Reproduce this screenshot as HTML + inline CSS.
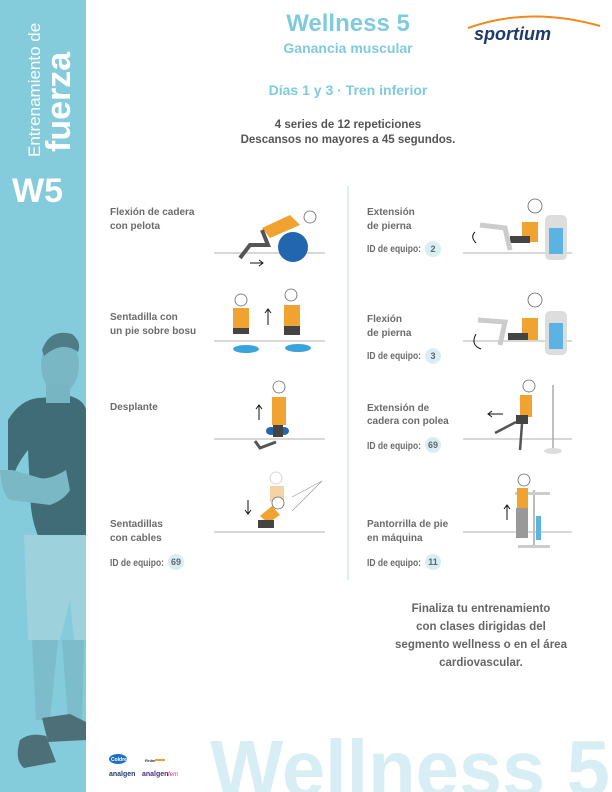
<!DOCTYPE html>
<html><head><meta charset="utf-8"><style>
html,body{margin:0;padding:0;background:#fff}
body{width:612px;height:792px;position:relative;overflow:hidden;font-family:"Liberation Sans",sans-serif}
</style></head><body>
<svg width="612" height="792" viewBox="0 0 612 792" xmlns="http://www.w3.org/2000/svg" style="position:absolute;left:0;top:0">
<rect x="0" y="0" width="86" height="792" fill="#84cbdc"/>
<g>
<path d="M8 420 Q20 400 38 398 L70 396 Q84 400 86 410 L86 540 L40 540 Q30 520 30 490 L28 450 Q12 470 10 490 L8 470 Z" fill="#3f6c77"/>
<path d="M0 470 Q2 495 10 500 L50 505 Q64 500 70 490 L66 470 Q50 480 40 478 L12 470 Z" fill="#7ab8c6"/>
<ellipse cx="60" cy="365" rx="19" ry="28" fill="#7ab7c4"/>
<path d="M42 350 Q50 328 72 334 Q82 342 78 352 Q62 340 44 356 Z" fill="#4f7d87"/>
<rect x="46" y="385" width="24" height="18" fill="#78b5c2"/>
<path d="M24 535 L86 535 L86 640 L74 640 L70 600 L60 640 L28 640 Z" fill="#9dd1dc"/>
<path d="M32 640 L58 640 L50 720 L36 720 Z" fill="#7cbccb"/>
<path d="M62 640 L84 640 L82 720 L68 720 Z" fill="#7cbccb"/>
<path d="M20 740 Q30 732 46 736 L56 762 L24 768 Q14 760 20 740 Z" fill="#4d6f78"/>
<path d="M42 718 L70 714 L86 722 L86 740 L48 742 Z" fill="#4d6f78"/>
</g>
<text transform="translate(40,157) rotate(-90)" font-size="17" fill="#fff">Entrenamiento de</text>
<text transform="translate(70,152) rotate(-90)" font-size="34" font-weight="bold" fill="#fff">fuerza</text>
<text x="12" y="202" font-size="34" font-weight="bold" fill="#fff">W5</text>

<text x="210" y="796" font-size="80" font-weight="bold" fill="#d7eef4" textLength="400" lengthAdjust="spacingAndGlyphs">Wellness 5</text>

<text x="348" y="31" font-size="24" font-weight="bold" fill="#7fcbdd" text-anchor="middle">Wellness 5</text>
<text x="348" y="53" font-size="14" font-weight="bold" fill="#7fcbdd" text-anchor="middle">Ganancia muscular</text>
<text x="348" y="95" font-size="14" font-weight="bold" fill="#7fcbdd" text-anchor="middle">Días 1 y 3 · Tren inferior</text>
<text x="348" y="128" font-size="11.5" font-weight="bold" fill="#555" text-anchor="middle">4 series de 12 repeticiones</text>
<text x="348" y="143" font-size="11.5" font-weight="bold" fill="#555" text-anchor="middle">Descansos no mayores a 45 segundos.</text>

<path d="M468 28 Q530 6 600 26" stroke="#f08a1c" stroke-width="2" fill="none"/>
<text x="474" y="40" font-size="18" font-weight="bold" font-style="italic" fill="#1f3a6b">sportium</text>

<line x1="348" y1="186" x2="348" y2="580" stroke="#d2eaf0" stroke-width="1.5"/>

<g font-size="10" font-weight="bold" fill="#6b6b6b">
<text x="110" y="215">Flexión de cadera</text><text x="110" y="229">con pelota</text>
<text x="110" y="320">Sentadilla con</text><text x="110" y="334">un pie sobre bosu</text>
<text x="110" y="410">Desplante</text>
<text x="110" y="527">Sentadillas</text><text x="110" y="541">con cables</text>
<text x="110" y="566" textLength="54" lengthAdjust="spacingAndGlyphs">ID de equipo:</text>
<text x="367" y="215">Extensión</text><text x="367" y="229">de pierna</text>
<text x="367" y="252" textLength="54" lengthAdjust="spacingAndGlyphs">ID de equipo:</text>
<text x="367" y="322">Flexión</text><text x="367" y="336">de pierna</text>
<text x="367" y="359" textLength="54" lengthAdjust="spacingAndGlyphs">ID de equipo:</text>
<text x="367" y="411">Extensión de</text><text x="367" y="424">cadera con polea</text>
<text x="367" y="449" textLength="54" lengthAdjust="spacingAndGlyphs">ID de equipo:</text>
<text x="367" y="527">Pantorrilla de pie</text><text x="367" y="541">en máquina</text>
<text x="367" y="566" textLength="54" lengthAdjust="spacingAndGlyphs">ID de equipo:</text>
</g>
<g fill="#d6eef4"><circle cx="176" cy="562" r="8"/><circle cx="433" cy="249" r="8"/><circle cx="433" cy="356" r="8"/><circle cx="433" cy="445" r="8"/><circle cx="433" cy="562" r="8"/></g>
<g font-size="9" font-weight="bold" fill="#666" text-anchor="middle">
<text x="176" y="565">69</text><text x="433" y="252">2</text><text x="433" y="359">3</text><text x="433" y="448">69</text><text x="433" y="565">11</text></g>

<g stroke="#999" stroke-width="0.8">
<line x1="214" y1="253" x2="325" y2="253"/><line x1="214" y1="341" x2="325" y2="341"/>
<line x1="214" y1="439" x2="325" y2="439"/><line x1="214" y1="532" x2="325" y2="532"/>
<line x1="463" y1="253" x2="572" y2="253"/><line x1="463" y1="341" x2="572" y2="341"/>
<line x1="463" y1="439" x2="572" y2="439"/><line x1="463" y1="532" x2="572" y2="532"/>
</g>

<circle cx="293" cy="247" r="15" fill="#2266b0"/>
<path d="M262 228 L290 215 L300 225 L270 238 Z" fill="#f0a331"/>
<circle cx="310" cy="217" r="6" fill="#fff" stroke="#666" stroke-width="0.8"/>
<path d="M262 230 L268 245 L250 245 L240 258" stroke="#555" stroke-width="4" fill="none"/>
<path d="M250 263 L262 263" stroke="#111" stroke-width="1"/><path d="M259 260 L263 263 L259 266" stroke="#111" fill="none"/>
<rect x="233" y="308" width="16" height="22" fill="#f0a331"/><circle cx="241" cy="300" r="6" fill="#fff" stroke="#666" stroke-width="0.8"/>
<rect x="233" y="328" width="16" height="6" fill="#444"/>
<ellipse cx="246" cy="349" rx="13" ry="4" fill="#39a3dc"/>
<rect x="284" y="305" width="16" height="23" fill="#f0a331"/><circle cx="291" cy="295" r="6" fill="#fff" stroke="#666" stroke-width="0.8"/>
<rect x="284" y="326" width="16" height="9" fill="#444"/>
<ellipse cx="298" cy="348" rx="13" ry="4" fill="#39a3dc"/>
<line x1="268" y1="325" x2="268" y2="310" stroke="#111"/><path d="M265 313 L268 309 L271 313" stroke="#111" fill="none"/>
<rect x="272" y="397" width="14" height="28" fill="#f0a331"/><circle cx="279" cy="387" r="6" fill="#fff" stroke="#666" stroke-width="0.8"/>
<ellipse cx="271" cy="431" rx="5" ry="4" fill="#2266b0"/><ellipse cx="284" cy="431" rx="5" ry="4" fill="#2266b0"/>
<rect x="273" y="425" width="10" height="12" fill="#444"/>
<path d="M255 441 L260 448 L276 442" stroke="#555" stroke-width="3" fill="none"/>
<line x1="259" y1="420" x2="259" y2="406" stroke="#111"/><path d="M256 409 L259 405 L262 409" stroke="#111" fill="none"/>
<rect x="270" y="486" width="14" height="16" fill="#f6d3a4"/><circle cx="276" cy="478" r="6" fill="#fff" stroke="#ccc" stroke-width="0.8"/>
<path d="M260 516 L272 506 L280 515 L268 523 Z" fill="#f0a331"/><circle cx="278" cy="503" r="6" fill="#fff" stroke="#666" stroke-width="0.8"/>
<rect x="258" y="520" width="16" height="8" fill="#444"/>
<path d="M292 497 L322 481 M292 511 L322 481" stroke="#999" stroke-width="0.7"/>
<line x1="248" y1="500" x2="248" y2="513" stroke="#111"/><path d="M245 510 L248 514 L251 510" stroke="#111" fill="none"/>
<g>
<rect x="545" y="215" width="22" height="45" rx="5" fill="#ddd"/><rect x="549" y="228" width="14" height="26" fill="#5ab3e3"/>
<rect x="522" y="222" width="16" height="20" fill="#f0a331"/><circle cx="535" cy="206" r="7" fill="#fff" stroke="#666" stroke-width="0.8"/>
<rect x="510" y="236" width="20" height="7" fill="#444"/>
<path d="M480 225 L505 228 L510 250" stroke="#ccc" stroke-width="5" fill="none"/>
<path d="M476 243 Q470 237 475 232" stroke="#111" fill="none"/>
<rect x="545" y="311" width="22" height="44" rx="5" fill="#ddd"/><rect x="549" y="323" width="14" height="26" fill="#5ab3e3"/>
<rect x="522" y="318" width="16" height="22" fill="#f0a331"/><circle cx="535" cy="300" r="7" fill="#fff" stroke="#666" stroke-width="0.8"/>
<rect x="508" y="333" width="20" height="7" fill="#444"/>
<path d="M478 320 L505 322 L500 345" stroke="#ccc" stroke-width="5" fill="none"/>
<path d="M476 334 Q470 345 481 349" stroke="#111" fill="none"/>
<line x1="553" y1="385" x2="553" y2="450" stroke="#aaa" stroke-width="1.5"/><ellipse cx="553" cy="451" rx="9" ry="3" fill="#ddd"/>
<rect x="520" y="395" width="12" height="22" fill="#f0a331"/><circle cx="529" cy="386" r="6" fill="#fff" stroke="#666" stroke-width="0.8"/>
<rect x="516" y="415" width="12" height="9" fill="#444"/>
<path d="M495 433 L516 422 M522 424 L520 450" stroke="#555" stroke-width="2.5" fill="none"/>
<line x1="489" y1="414" x2="503" y2="414" stroke="#111"/><path d="M492 411 L488 414 L492 417" stroke="#111" fill="none"/>
<rect x="533" y="490" width="2" height="55" fill="#bbb"/><rect x="515" y="492" width="35" height="3" fill="#ccc"/>
<rect x="536" y="516" width="5" height="24" fill="#5ab3e3"/>
<rect x="518" y="545" width="32" height="3" fill="#ccc"/>
<rect x="517" y="488" width="11" height="22" fill="#f0a331"/><circle cx="524" cy="480" r="6" fill="#fff" stroke="#666" stroke-width="0.8"/>
<rect x="516" y="508" width="12" height="30" fill="#999"/>
<line x1="507" y1="520" x2="507" y2="506" stroke="#111"/><path d="M504 509 L507 505 L510 509" stroke="#111" fill="none"/>
</g>

<g font-size="11.5" font-weight="bold" fill="#666" text-anchor="middle">
<text x="481" y="612">Finaliza  tu entrenamiento</text>
<text x="481" y="630">con clases dirigidas del</text>
<text x="481" y="648">segmento wellness o en el área</text>
<text x="481" y="666">cardiovascular.</text>
</g>

<ellipse cx="118" cy="759" rx="9" ry="5" fill="#1f6fbf"/>
<text x="111" y="761" font-size="5" font-weight="bold" fill="#fff">Coldrex</text>
<text x="145" y="762" font-size="4" font-weight="bold" fill="#333">Rrdm</text>
<rect x="155" y="759" width="10" height="2" fill="#f0a331"/>
<text x="109" y="776" font-size="7" font-weight="bold" fill="#1f3a6b">analgen</text>
<text x="142" y="776" font-size="7" font-weight="bold" fill="#4b2a8a">analgen</text>
<text x="168" y="776" font-size="6" font-style="italic" fill="#d0308a">fem</text>
</svg>
</body></html>
